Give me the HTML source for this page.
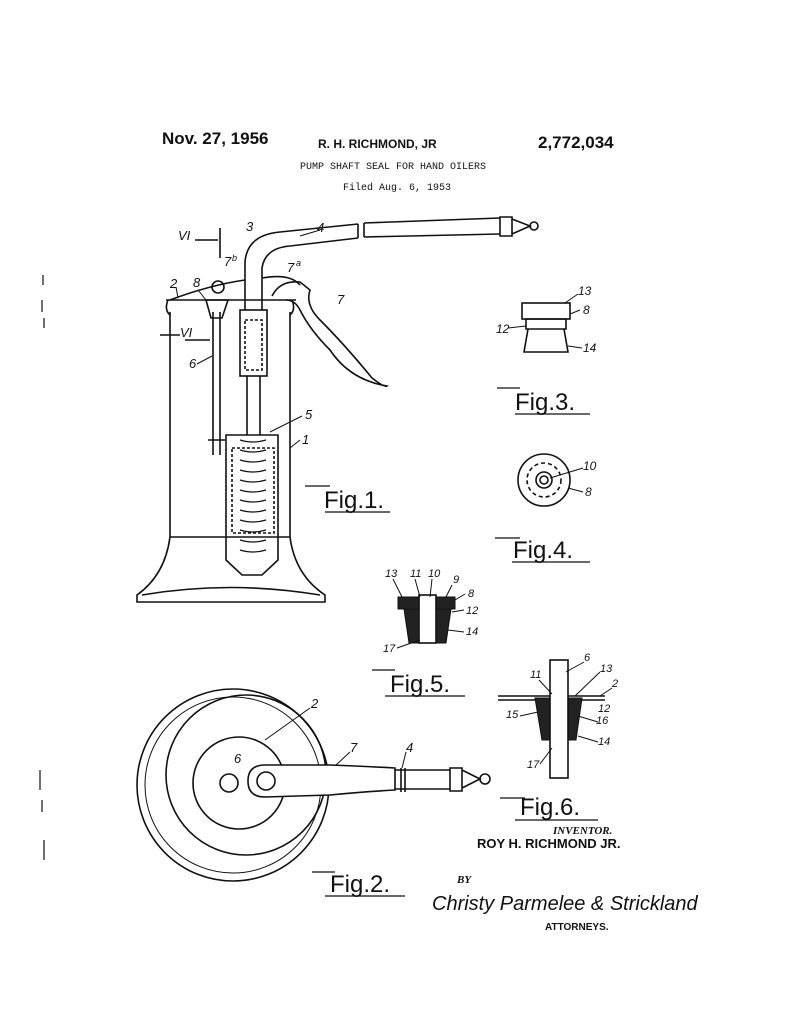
<!DOCTYPE html>
<html><head><meta charset="utf-8"><style>
html,body{margin:0;padding:0;background:#fff;}
svg{display:block;}
text{font-family:"Liberation Sans",sans-serif;fill:#111;}
.m{font-family:"Liberation Mono",monospace;}
.i{font-style:italic;font-family:"Liberation Serif",serif;}
</style></head><body>
<svg width="791" height="1024" viewBox="0 0 791 1024" xmlns="http://www.w3.org/2000/svg" fill="none" stroke="#111" stroke-width="1.6">
<!-- header -->
<text x="162" y="144" font-size="17" font-weight="bold" stroke="none" font-family="Liberation Serif">Nov. 27, 1956</text>
<text x="318" y="148" font-size="12" font-weight="bold" stroke="none">R. H. RICHMOND, JR</text>
<text x="538" y="148" font-size="17" font-weight="bold" stroke="none" font-family="Liberation Serif">2,772,034</text>
<text x="300" y="169" font-size="10" stroke="none" class="m">PUMP SHAFT SEAL FOR HAND OILERS</text>
<text x="343" y="190" font-size="10" stroke="none" class="m">Filed Aug. 6, 1953</text>

<!-- Fig 1 -->
<path d="M170 312 L170 537 M290 312 L290 537" />
<path d="M166 300 L296 300 M168 300 Q164 310 170 315 M292 300 Q296 310 290 315"/>
<path d="M170 537 L290 537 M170 537 Q165 575 137 595 L137 602 L325 602 L325 595 Q295 575 290 537"/>
<path d="M142 595 Q230 580 320 595"/>
<!-- spout -->
<path d="M245 310 L245 262 Q247 235 280 232 L358 224 M262 310 L262 268 Q265 248 290 246 L358 238"/>
<path d="M358 224 L358 238 M364 223 L364 237 M364 223 L500 218 M364 237 L500 234"/>
<path d="M500 217 L512 217 L512 236 L500 236 Z M512 219 L530 226 L512 234 M530 226 a4 4 0 1 0 8 0 a4 4 0 1 0 -8 0"/>
<!-- lid curve -->
<path d="M170 300 Q210 285 245 280 M262 278 Q290 273 300 285"/>
<!-- lever -->
<path d="M272 296 Q280 280 300 282 L310 290 Q305 305 320 320 Q345 345 372 378 Q385 388 387 386 Q350 380 330 350 Q310 330 300 310 Q295 300 286 300"/>
<!-- pump cylinder -->
<rect x="240" y="310" width="27" height="66"/>
<rect x="245" y="320" width="17" height="50" stroke-dasharray="3 2"/>
<path d="M247 376 L247 435 M260 376 L260 435"/>
<path d="M226 435 L278 435 L278 560 L262 575 L242 575 L226 560 Z"/>
<rect x="232" y="448" width="42" height="85" stroke-dasharray="3 2"/>
<path d="M240 440 Q253 444 266 440 M240 450 Q253 454 266 450 M240 460 Q253 464 266 460 M240 470 Q253 474 266 470 M240 480 Q253 484 266 480 M240 490 Q253 494 266 490 M240 500 Q253 504 266 500 M240 510 Q253 514 266 510 M240 520 Q253 524 266 520 M240 530 Q253 534 266 530 M240 540 Q253 544 266 540 M240 550 Q253 554 266 550" stroke-width="1.2"/>
<!-- rod 6 -->
<path d="M213 312 L213 455 M220 312 L220 455 M208 440 L225 440"/>
<path d="M206 300 L228 300 L222 318 L211 318 Z"/>
<circle cx="218" cy="287" r="6"/>
<path d="M220 258 L220 228 M195 240 L218 240"/>
<path d="M185 340 L210 340 M160 335 L180 335"/>
<!-- labels fig1 -->
<g stroke="none" font-size="13" class="i">
<text x="178" y="240">VI</text><text x="180" y="337">VI</text>
<text x="246" y="231">3</text><text x="317" y="232">4</text>
<text x="224" y="266">7</text><text x="232" y="261" font-size="9">b</text>
<text x="287" y="272">7</text><text x="296" y="266" font-size="9">a</text>
<text x="337" y="304">7</text><text x="193" y="287">8</text><text x="170" y="288">2</text>
<text x="189" y="368">6</text><text x="305" y="419">5</text><text x="302" y="444">1</text>
</g>
<path d="M176 287 L178 298 M198 290 L206 300 M197 364 L212 356 M302 416 L270 432 M300 440 L290 448 M320 230 L300 236" stroke-width="1"/>
<text x="324" y="508" font-size="24" stroke="none" font-family="Liberation Serif">Fig.1.</text>
<path d="M305 486 L330 486 M325 512 L390 512" stroke-width="1.2"/>

<!-- Fig 3 -->
<rect x="522" y="303" width="48" height="16"/>
<path d="M526 319 L566 319 L566 329 L526 329 Z M528 329 L564 329 L568 352 L524 352 Z"/>
<g stroke="none" font-size="12" class="i"><text x="578" y="295">13</text><text x="583" y="314">8</text><text x="496" y="333">12</text><text x="583" y="352">14</text></g>
<path d="M508 328 L526 326 M570 314 L580 310 M568 346 L582 348 M565 303 L578 294" stroke-width="1"/>
<text x="515" y="410" font-size="24" stroke="none" font-family="Liberation Serif">Fig.3.</text>
<path d="M497 388 L520 388 M515 414 L590 414" stroke-width="1.2"/>

<!-- Fig 4 -->
<circle cx="544" cy="480" r="26"/>
<circle cx="544" cy="480" r="17" stroke-dasharray="4 3"/>
<circle cx="544" cy="480" r="8"/>
<circle cx="544" cy="480" r="4"/>
<g stroke="none" font-size="12" class="i"><text x="583" y="470">10</text><text x="585" y="496">8</text></g>
<path d="M583 468 L550 478 M583 492 L568 488" stroke-width="1"/>
<text x="513" y="558" font-size="24" stroke="none" font-family="Liberation Serif">Fig.4.</text>
<path d="M495 538 L520 538 M512 562 L590 562" stroke-width="1.2"/>

<!-- Fig 5 -->
<path d="M398 597 L455 597 L455 609 L398 609 Z" fill="#222" stroke-width="1"/>
<rect x="419" y="595" width="17" height="48" fill="#fff"/>
<path d="M404 609 L419 609 L419 643 L409 643 Z M436 609 L451 609 L446 643 L436 643 Z" fill="#222" stroke-width="1"/>
<g stroke="none" font-size="11" class="i"><text x="385" y="577">13</text><text x="410" y="577">11</text><text x="428" y="577">10</text><text x="453" y="583">9</text><text x="468" y="597">8</text><text x="466" y="614">12</text><text x="466" y="635">14</text><text x="383" y="652">17</text></g>
<path d="M393 579 L402 597 M415 579 L420 597 M432 579 L430 597 M452 585 L446 597 M465 594 L455 600 M464 610 L452 612 M464 632 L448 630 M397 648 L420 640" stroke-width="1"/>
<text x="390" y="692" font-size="24" stroke="none" font-family="Liberation Serif">Fig.5.</text>
<path d="M372 670 L395 670 M385 696 L465 696" stroke-width="1.2"/>

<!-- Fig 6 -->
<path d="M498 696 L605 696 M498 700 L605 700" stroke-width="1.4"/>
<path d="M535 698 L550 698 L550 740 L542 740 Z M568 698 L582 698 L576 740 L568 740 Z" fill="#222" stroke-width="1"/>
<rect x="550" y="660" width="18" height="118" fill="#fff"/>
<g stroke="none" font-size="11" class="i"><text x="584" y="661">6</text><text x="530" y="678">11</text><text x="600" y="672">13</text><text x="612" y="687">2</text><text x="506" y="718">15</text><text x="598" y="712">12</text><text x="596" y="724">16</text><text x="598" y="745">14</text><text x="527" y="768">17</text></g>
<path d="M584 662 L566 672 M539 680 L552 694 M600 672 L575 696 M612 688 L600 696 M520 716 L538 712 M598 722 L578 716 M598 742 L578 736 M540 764 L552 748" stroke-width="1"/>
<text x="520" y="815" font-size="24" stroke="none" font-family="Liberation Serif">Fig.6.</text>
<path d="M500 798 L525 798 M515 820 L598 820" stroke-width="1.2"/>

<!-- Fig 2 -->
<circle cx="233" cy="785" r="96"/>
<circle cx="233" cy="785" r="88" stroke-width="1"/>
<circle cx="246" cy="775" r="80"/>
<circle cx="239" cy="783" r="46"/>
<circle cx="229" cy="783" r="9"/>
<path d="M265 765 L330 765 Q360 766 395 768 L395 790 Q360 792 330 795 L265 797 Q248 797 248 781 Q248 765 265 765 Z" fill="#fff"/>
<circle cx="266" cy="781" r="9"/>
<path d="M395 770 L450 770 M395 789 L450 789 M401 768 L401 792 M405 768 L405 792"/>
<path d="M450 768 L462 768 L462 791 L450 791 Z M462 770 L480 779 L462 788 M480 779 a5 5 0 1 0 10 0 a5 5 0 1 0 -10 0"/>
<g stroke="none" font-size="13" class="i"><text x="311" y="708">2</text><text x="234" y="763">6</text><text x="350" y="752">7</text><text x="406" y="752">4</text></g>
<path d="M310 708 L265 740 M350 752 L336 765 M406 752 L402 768" stroke-width="1"/>
<text x="330" y="892" font-size="24" stroke="none" font-family="Liberation Serif">Fig.2.</text>
<path d="M312 872 L335 872 M325 896 L405 896" stroke-width="1.2"/>

<!-- inventor -->
<text x="553" y="834" font-size="11" stroke="none" class="i" font-weight="bold">INVENTOR.</text>
<text x="477" y="848" font-size="13" font-weight="bold" stroke="none">ROY H. RICHMOND JR.</text>
<text x="457" y="883" font-size="11" stroke="none" class="i" font-weight="bold">BY</text>
<text x="432" y="910" font-size="20" stroke="none" font-family="Liberation Serif" font-style="italic">Christy Parmelee &amp; Strickland</text>
<text x="545" y="930" font-size="10" font-weight="bold" stroke="none">ATTORNEYS.</text>

<!-- margin marks -->
<path d="M43 275 L43 285 M42 300 L42 312 M44 318 L44 328 M40 770 L40 790 M42 800 L42 812 M44 840 L44 860" stroke-width="1.2"/>
</svg>
</body></html>
